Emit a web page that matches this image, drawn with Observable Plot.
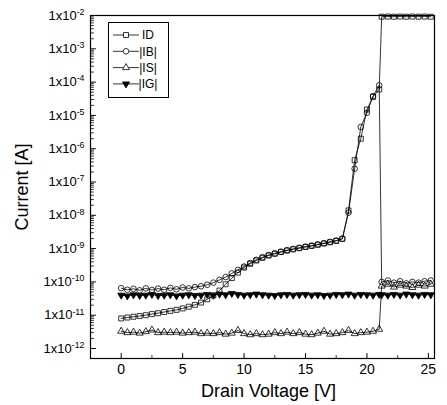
<!DOCTYPE html>
<html><head><meta charset="utf-8">
<script src="https://cdn.jsdelivr.net/npm/d3@7"></script>
<script src="https://cdn.jsdelivr.net/npm/@observablehq/plot@0.6"></script>
<style>
body{margin:0;background:#fff;}
#chart{width:447px;height:405px;}
</style></head><body><div id="chart"></div>
<script>
const voltage = [0,0.5,1,1.5,2,2.5,3,3.5,4,4.5,5,5.5,6,6.5,7,7.5,8,8.5,9,9.5,10,10.5,11,11.5,12,12.5,13,13.5,14,14.5,15,15.5,16,16.5,17,17.5,18,18.5,19,19.5,20,20.5,21,
  21.2,21.7,22.2,22.7,23.2,23.7,24.2,24.7,25.2];
const iD = [8.0e-12,8.5e-12,9.0e-12,9.5e-12,1.0e-11,1.08e-11,1.15e-11,1.25e-11,1.35e-11,1.45e-11,1.6e-11,1.8e-11,2.05e-11,2.4e-11,3.0e-11,3.9e-11,5.5e-11,8.5e-11,1.3e-10,1.9e-10,2.7e-10,3.5e-10,4.4e-10,5.3e-10,6.2e-10,7.0e-10,7.9e-10,8.7e-10,9.5e-10,1.03e-9,1.12e-9,1.2e-9,1.3e-9,1.42e-9,1.55e-9,1.7e-9,1.95e-9,1.4e-8,4.5e-7,2.0e-6,1.5e-5,3.6e-5,6.0e-5,
  9.2e-3,9.3e-3,9.2e-3,9.3e-3,9.2e-3,9.3e-3,9.2e-3,9.3e-3,9.2e-3];
const iB = [6.5e-11,5.8e-11,6.2e-11,5.6e-11,6.4e-11,5.7e-11,6.3e-11,5.8e-11,6.6e-11,6.0e-11,6.8e-11,6.4e-11,7.0e-11,7.4e-11,8.2e-11,9.5e-11,1.15e-10,1.4e-10,1.8e-10,2.3e-10,2.9e-10,3.7e-10,4.6e-10,5.5e-10,6.4e-10,7.2e-10,8.1e-10,9.0e-10,9.8e-10,1.06e-9,1.15e-9,1.24e-9,1.34e-9,1.46e-9,1.6e-9,1.75e-9,2.0e-9,1.2e-8,2.5e-7,4.5e-6,1.2e-5,3.8e-5,8.0e-5,
  1.0e-10,1.1e-10,9.5e-11,1.05e-10,9.0e-11,1.0e-10,9.5e-11,1.05e-10,1.1e-10];
const iS = [3.3e-12,3.0e-12,3.1e-12,2.9e-12,3.2e-12,3.6e-12,3.0e-12,3.1e-12,3.0e-12,3.1e-12,2.9e-12,3.0e-12,3.1e-12,2.8e-12,2.9e-12,2.8e-12,3.0e-12,2.7e-12,2.9e-12,3.5e-12,2.8e-12,2.6e-12,2.8e-12,2.6e-12,2.7e-12,3.0e-12,2.8e-12,3.1e-12,2.8e-12,3.0e-12,2.7e-12,2.6e-12,2.9e-12,3.3e-12,2.7e-12,2.8e-12,3.0e-12,3.5e-12,2.8e-12,3.0e-12,3.1e-12,3.3e-12,3.8e-12,
  7.5e-11,8.5e-11,7.0e-11,8.0e-11,7.5e-11,6.8e-11,8.0e-11,7.5e-11,8.5e-11];
const iG = [4.0e-11,3.8e-11,4.1e-11,3.9e-11,4.0e-11,4.2e-11,3.9e-11,4.0e-11,4.1e-11,3.8e-11,4.0e-11,4.1e-11,3.9e-11,4.0e-11,4.2e-11,4.0e-11,4.3e-11,4.1e-11,4.5e-11,4.2e-11,4.0e-11,4.1e-11,4.3e-11,4.1e-11,4.0e-11,3.9e-11,4.1e-11,4.2e-11,4.0e-11,4.1e-11,4.2e-11,4.0e-11,4.1e-11,3.9e-11,4.0e-11,4.2e-11,4.1e-11,4.3e-11,4.0e-11,4.2e-11,4.1e-11,4.0e-11,4.2e-11,
  4.1e-11,4.0e-11,4.2e-11,4.0e-11,4.3e-11,4.1e-11,4.0e-11,4.2e-11,4.1e-11];
const seriesNames = ["ID","|IB|","|IS|","|IG|"];
const yTickExponents = [-12,-11,-10,-9,-8,-7,-6,-5,-4,-3,-2];
const xTickValues = [0,5,10,15,20,25];
const xMinorTickValues = [2.5,7.5,12.5,17.5,22.5];

const seriesValues = [iD, iB, iS, iG];
const symbols = ["square","circle","triangle","triangle"];
const rotates = [0,0,0,180];
const fills = ["none","none","none","black"];
const radii = [2.8,2.8,2.6,2.6];

const rows = [];
seriesValues.forEach((vals, si) => vals.forEach((v, i) => rows.push({s: seriesNames[si], v: voltage[i], i: v})));

const yMajor = yTickExponents.map(e => Math.pow(10, e));
const yMinor = [];
yTickExponents.slice(0, -1).forEach(e => { for (let k = 2; k <= 9; k++) yMinor.push(k * Math.pow(10, e)); });

const tickShape = {draw(ctx, l) { ctx.moveTo(0, 0); ctx.lineTo(0, -l); }};

const marks = [
  Plot.frame({stroke: "black", strokeWidth: 1.2}),
  Plot.axisX({ticks: xTickValues, tickSize: 0, tickPadding: 6, fontSize: 14, label: null}),
  Plot.axisY({ticks: yMajor, tickSize: 0, tickPadding: 6, fontSize: 13, label: null,
    tickFormat: d => "1x10^" + Math.round(Math.log10(d))}),
  Plot.vector(yMajor, {y: d => d, frameAnchor: "left", length: 5, rotate: 90, anchor: "start", shape: tickShape, stroke: "black", strokeWidth: 1}),
  Plot.vector(yMinor, {y: d => d, frameAnchor: "left", length: 3, rotate: 90, anchor: "start", shape: tickShape, stroke: "black", strokeWidth: 0.8}),
  Plot.vector(xTickValues, {x: d => d, frameAnchor: "bottom", length: 5, rotate: 0, anchor: "start", shape: tickShape, stroke: "black", strokeWidth: 1}),
  Plot.vector(xMinorTickValues, {x: d => d, frameAnchor: "bottom", length: 3, rotate: 0, anchor: "start", shape: tickShape, stroke: "black", strokeWidth: 0.8}),
  Plot.line(rows, {x: "v", y: "i", z: "s", stroke: "black", strokeWidth: 0.8}),
  Plot.text(["Current [A]"], {frameAnchor: "left", dx: -68, rotate: -90, fontSize: 18, textAnchor: "middle", lineAnchor: "middle"}),
  Plot.text(["Drain Voltage [V]"], {frameAnchor: "bottom", dx: 6, dy: 33, fontSize: 18, textAnchor: "middle", lineAnchor: "middle"})
];
seriesNames.forEach((name, si) => {
  marks.push(Plot.dot(rows.filter(r => r.s === name), {x: "v", y: "i", symbol: symbols[si], rotate: rotates[si], r: radii[si], stroke: "black", strokeWidth: 0.8, fill: fills[si]}));
});

const plot = Plot.plot({
  width: 447, height: 405,
  marginLeft: 90, marginRight: 13, marginTop: 15, marginBottom: 47,
  x: {domain: [-2.5, 25.5]},
  y: {type: "log", domain: [Math.pow(10, -12.3), 1e-2]},
  style: {fontFamily: "'Liberation Sans', Arial, sans-serif", background: "white", color: "black"},
  marks
});

// superscript exponents on y tick labels
d3.select(plot).selectAll('g[aria-label="y-axis tick label"] text').each(function() {
  const t = d3.select(this);
  const parts = t.text().split("^");
  t.text(null);
  t.append("tspan").text(parts[0]);
  t.append("tspan").attr("dy", "-0.55em").attr("font-size", "0.68em").text(parts[1]);
});

// legend
const svg = d3.select(plot);
const lg = svg.append("g").attr("aria-label", "legend");
lg.append("rect").attr("x", 108.5).attr("y", 22.5).attr("width", 60).attr("height", 75)
  .attr("fill", "white").attr("stroke", "black").attr("stroke-width", 1);
const symTypes = [d3.symbolSquare, d3.symbolCircle, d3.symbolTriangle, d3.symbolTriangle];
seriesNames.forEach((name, si) => {
  const y = 35 + si * 16.3;
  lg.append("line").attr("x1", 113).attr("x2", 139).attr("y1", y).attr("y2", y).attr("stroke", "black").attr("stroke-width", 0.8);
  lg.append("path").attr("d", d3.symbol(symTypes[si], Math.PI * radii[si] * radii[si])())
    .attr("transform", `translate(126,${y}) rotate(${rotates[si]})`)
    .attr("fill", fills[si] === "none" ? "white" : "black").attr("stroke", "black").attr("stroke-width", 0.8);
  lg.append("text").attr("x", 148).attr("y", y).attr("dy", "0.35em").attr("font-size", 12).text(name);
});

document.getElementById("chart").appendChild(plot);
</script></body></html>
